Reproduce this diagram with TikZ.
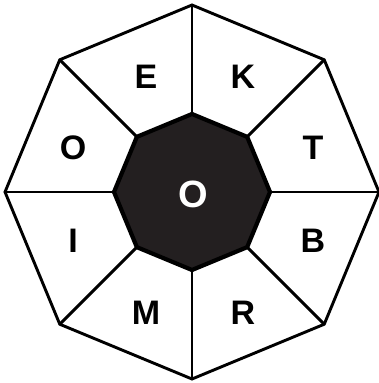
\documentclass[tikz,border=0pt]{standalone}
\usepackage{fontspec}
\setmainfont{Liberation Sans}
\usetikzlibrary{calc}
\definecolor{core}{RGB}{35,31,32}
\begin{document}
\begin{tikzpicture}[x=1pt,y=-1pt,
  edge/.style={line width=2.9pt,line join=miter},
  coreedge/.style={line width=4.2pt,fill=core,line join=miter},
  lbl/.style={font=\fontsize{34}{34}\selectfont\bfseries,inner sep=0pt},
  clbl/.style={font=\fontsize{38}{38}\selectfont\bfseries,text=white,inner sep=0pt}]
\useasboundingbox (0,0) rectangle (378,383);
\coordinate (c) at (192,192);
\foreach \k in {1,...,8}{
  \pgfmathsetmacro{\ang}{90+45*(\k-1)}
  \coordinate (o\k) at ($(c)+(\ang:187)$);
  \coordinate (i\k) at ($(c)+(\ang:78)$);
}
\draw[edge] (o1)--(o2)--(o3)--(o4)--(o5)--(o6)--(o7)--(o8)--cycle;
\foreach \k in {1,...,8}{\draw[edge] (i\k)--(o\k);}
\draw[coreedge] (i1)--(i2)--(i3)--(i4)--(i5)--(i6)--(i7)--(i8)--cycle;
\node[lbl] (E) at (146,77) {E};
\node[lbl] (K) at (243,77) {K};
\node[lbl] (T) at (313,148) {T};
\node[lbl] (B) at (313,241) {B};
\node[lbl] (R) at (243,313) {R};
\node[lbl] (M) at (146,313) {M};
\node[lbl] (I) at (73,241) {I};
\node[lbl] (Ol) at (73,148) {O};
\node[clbl] (Oc) at (193,194) {O};
\end{tikzpicture}
\end{document}
